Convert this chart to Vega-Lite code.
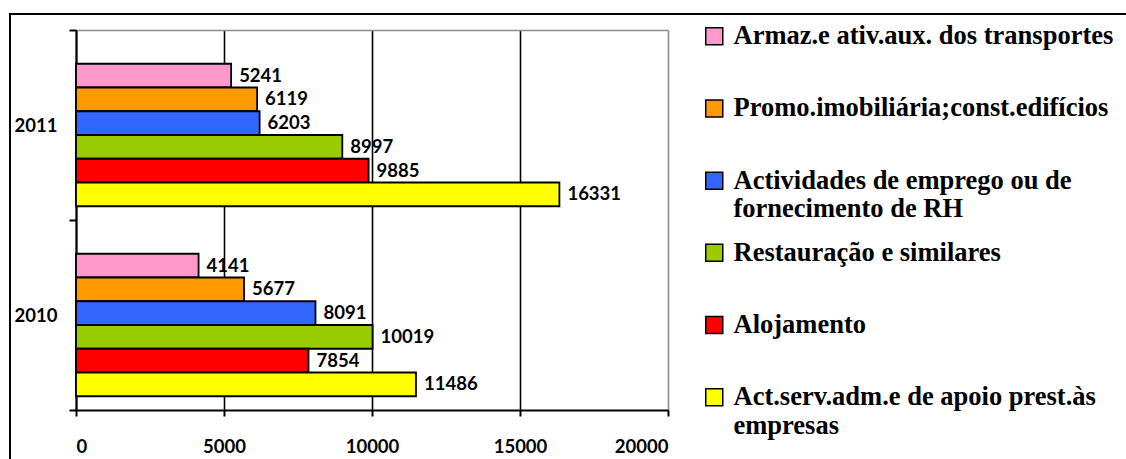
{
  "$schema": "https://vega.github.io/schema/vega-lite/v6.json",
  "width": 1130,
  "height": 450,
  "autosize": {"type": "none"},
  "padding": {"left": 10, "top": 14, "right": 0, "bottom": 0},
  "background": "white",
  "config": {"view": {"stroke": "black", "strokeWidth": 2}, "font": "Lato"},
  "data": {
    "values": [
      {"year": "2011", "sector": "Armaz.e ativ.aux. dos transportes", "value": 5241},
      {"year": "2011", "sector": "Promo.imobiliária;const.edifícios", "value": 6119},
      {"year": "2011", "sector": "Actividades de emprego ou de fornecimento de RH", "value": 6203},
      {"year": "2011", "sector": "Restauração e similares", "value": 8997},
      {"year": "2011", "sector": "Alojamento", "value": 9885},
      {"year": "2011", "sector": "Act.serv.adm.e de apoio prest.às empresas", "value": 16331},
      {"year": "2010", "sector": "Armaz.e ativ.aux. dos transportes", "value": 4141},
      {"year": "2010", "sector": "Promo.imobiliária;const.edifícios", "value": 5677},
      {"year": "2010", "sector": "Actividades de emprego ou de fornecimento de RH", "value": 8091},
      {"year": "2010", "sector": "Restauração e similares", "value": 10019},
      {"year": "2010", "sector": "Alojamento", "value": 7854},
      {"year": "2010", "sector": "Act.serv.adm.e de apoio prest.às empresas", "value": 11486}
    ]
  },
  "encoding": {
    "y": {
      "field": "year",
      "type": "nominal",
      "scale": {"domain": ["2011", "2010"], "range": [16, 396], "paddingInner": 0, "paddingOuter": 0},
      "axis": {
        "title": null,
        "orient": "left",
        "offset": -66,
        "domainColor": "black",
        "domainWidth": 2,
        "tickColor": "black",
        "tickWidth": 2,
        "tickSize": 7,
        "tickBand": "extent",
        "labelFont": "Lato",
        "labelFontWeight": "bold",
        "labelFontSize": 18.5,
        "labelColor": "black",
        "labelPadding": 12,
        "grid": false
      }
    },
    "yOffset": {
      "field": "sector",
      "type": "nominal",
      "scale": {
        "domain": [
          "Armaz.e ativ.aux. dos transportes",
          "Promo.imobiliária;const.edifícios",
          "Actividades de emprego ou de fornecimento de RH",
          "Restauração e similares",
          "Alojamento",
          "Act.serv.adm.e de apoio prest.às empresas"
        ],
        "paddingInner": 0,
        "paddingOuter": 1.27,
        "align": 0.71
      }
    }
  },
  "layer": [
    {
      "mark": {"type": "bar", "stroke": "black", "strokeWidth": 1.8},
      "encoding": {
        "x": {
          "field": "value",
          "type": "quantitative",
          "scale": {"domain": [0, 20000], "range": [66, 658], "nice": false, "zero": true},
          "axis": {
            "title": null,
            "orient": "bottom",
            "offset": -54,
            "values": [0, 5000, 10000, 15000, 20000],
            "format": "d",
            "grid": false,
            "domainColor": "black",
            "domainWidth": 2,
            "tickColor": "black",
            "tickWidth": 2,
            "tickSize": 6,
            "labelFont": "Lato",
            "labelFontWeight": "bold",
            "labelFontSize": 18.5,
            "labelColor": "black",
            "labelPadding": 21
          }
        },
        "color": {
          "field": "sector",
          "type": "nominal",
          "scale": {
            "domain": [
              "Armaz.e ativ.aux. dos transportes",
              "Promo.imobiliária;const.edifícios",
              "Actividades de emprego ou de fornecimento de RH",
              "Restauração e similares",
              "Alojamento",
              "Act.serv.adm.e de apoio prest.às empresas"
            ],
            "range": ["#FF99CC", "#FF9900", "#3366FF", "#99CC00", "#FF0000", "#FFFF00"]
          },
          "legend": {
            "orient": "none",
            "legendX": 691,
            "legendY": 9,
            "title": null,
            "symbolType": "square",
            "symbolSize": 290,
            "symbolStrokeColor": "black",
            "symbolStrokeWidth": 1.5,
            "symbolOpacity": 1,
            "labelFont": "Liberation Serif",
            "labelFontWeight": "bold",
            "labelFontSize": 26.5,
            "labelColor": "black",
            "labelLimit": 600,
            "labelOffset": 6,
            "rowPadding": 16.2,
            "gridAlign": "all",
            "labelExpr": "datum.label == 'Actividades de emprego ou de fornecimento de RH' ? ['Actividades de emprego ou de', 'fornecimento de RH'] : datum.label == 'Act.serv.adm.e de apoio prest.às empresas' ? ['Act.serv.adm.e de apoio prest.às', 'empresas'] : datum.label"
          }
        }
      }
    },
    {
      "mark": {"type": "text", "align": "left", "baseline": "middle", "dx": 8, "font": "Lato", "fontWeight": "bold", "fontSize": 18.5, "color": "black"},
      "encoding": {
        "x": {
          "field": "value",
          "type": "quantitative",
          "scale": {"domain": [0, 20000], "range": [66, 658], "nice": false, "zero": true},
          "axis": {
            "title": null,
            "orient": "top",
            "offset": -16,
            "values": [0, 5000, 10000, 15000, 20000],
            "domainColor": "#8c8c8c",
            "domainWidth": 1.6,
            "ticks": false,
            "labels": false,
            "grid": true,
            "gridColor": {"condition": {"test": "datum.value == 20000", "value": "#8c8c8c"}, "value": "black"},
            "gridWidth": 1.6,
            "gridOpacity": 1
          }
        },
        "text": {"field": "value", "type": "quantitative", "format": "d"}
      }
    }
  ],
  "resolve": {"axis": {"x": "independent"}}
}
